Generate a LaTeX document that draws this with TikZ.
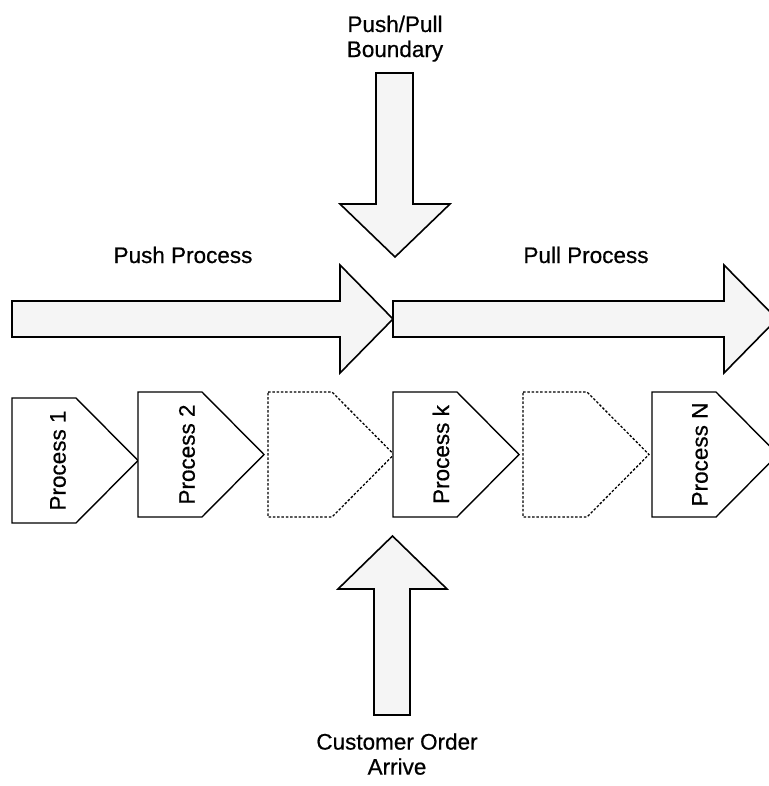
\documentclass[tikz,border=0pt]{standalone}
\usepackage{fontspec}
\setmainfont[FakeBold=0.6]{Liberation Sans}
\begin{document}
\begin{tikzpicture}[x=1pt,y=-1pt,
  bigarrow/.style={draw=black, line width=1.6pt, fill=black!4, line join=miter},
  procbox/.style={draw=black, line width=1.4pt, fill=white, line join=miter},
  ghostbox/.style={draw=black, line width=1.3pt, dash pattern=on 2.5pt off 1.8pt, fill=white},
  lbl/.style={font=\fontsize{22.5}{25}\selectfont, inner sep=0pt, align=center},
  proclbl/.style={font=\fontsize{22.5}{25}\selectfont, inner sep=0pt, rotate=90},
  % pentagon with left edge at the given point (top-left corner)
  stage/.pic={\path[pic actions] (0,0) -- (64,0) -- (126,62.5) -- (64,125) -- (0,125) -- cycle;},
]
\useasboundingbox (0,0) rectangle (768,786);

% push and pull flows
\draw[bigarrow] (12,301) -- (340,301) -- (340,265) -- (393,319) -- (340,373) -- (340,337) -- (12,337) -- cycle;
\draw[bigarrow] (393,301) -- (724,301) -- (724,265) -- (777,319) -- (724,373) -- (724,337) -- (393,337) -- cycle;

\node[lbl, anchor=base] (pushlbl) at (183,263) {Push Process};
\node[lbl, anchor=base] (pulllbl) at (586,263) {Pull Process};

% process stages
\pic[procbox]  at (12,398)  {stage};
\pic[procbox]  at (138,392) {stage};
\pic[ghostbox] at (268,392) {stage};
\pic[procbox]  at (393,392) {stage};
\pic[ghostbox] at (523,392) {stage};
\pic[procbox]  at (652,392) {stage};

\node[proclbl] (p1) at (58,460.5) {Process 1};
\node[proclbl] (p2) at (187,454.5) {Process 2};
\node[proclbl] (pk) at (441,454.5) {Process k};
\node[proclbl] (pn) at (700,454.5) {Process N};

% boundary marker from above
\draw[bigarrow] (376,73) -- (413,73) -- (413,204) -- (450,204) -- (395,257) -- (340,204) -- (376,204) -- cycle;
\node[lbl, anchor=north] (boundary) at (395,15.5) {Push/Pull\\Boundary};

% customer order from below
\draw[bigarrow] (374,715) -- (410,715) -- (410,589) -- (447,589) -- (392.5,536) -- (338,589) -- (374,589) -- cycle;
\node[lbl, anchor=south] (order) at (397,775) {Customer Order\\Arrive};
\end{tikzpicture}
\end{document}
